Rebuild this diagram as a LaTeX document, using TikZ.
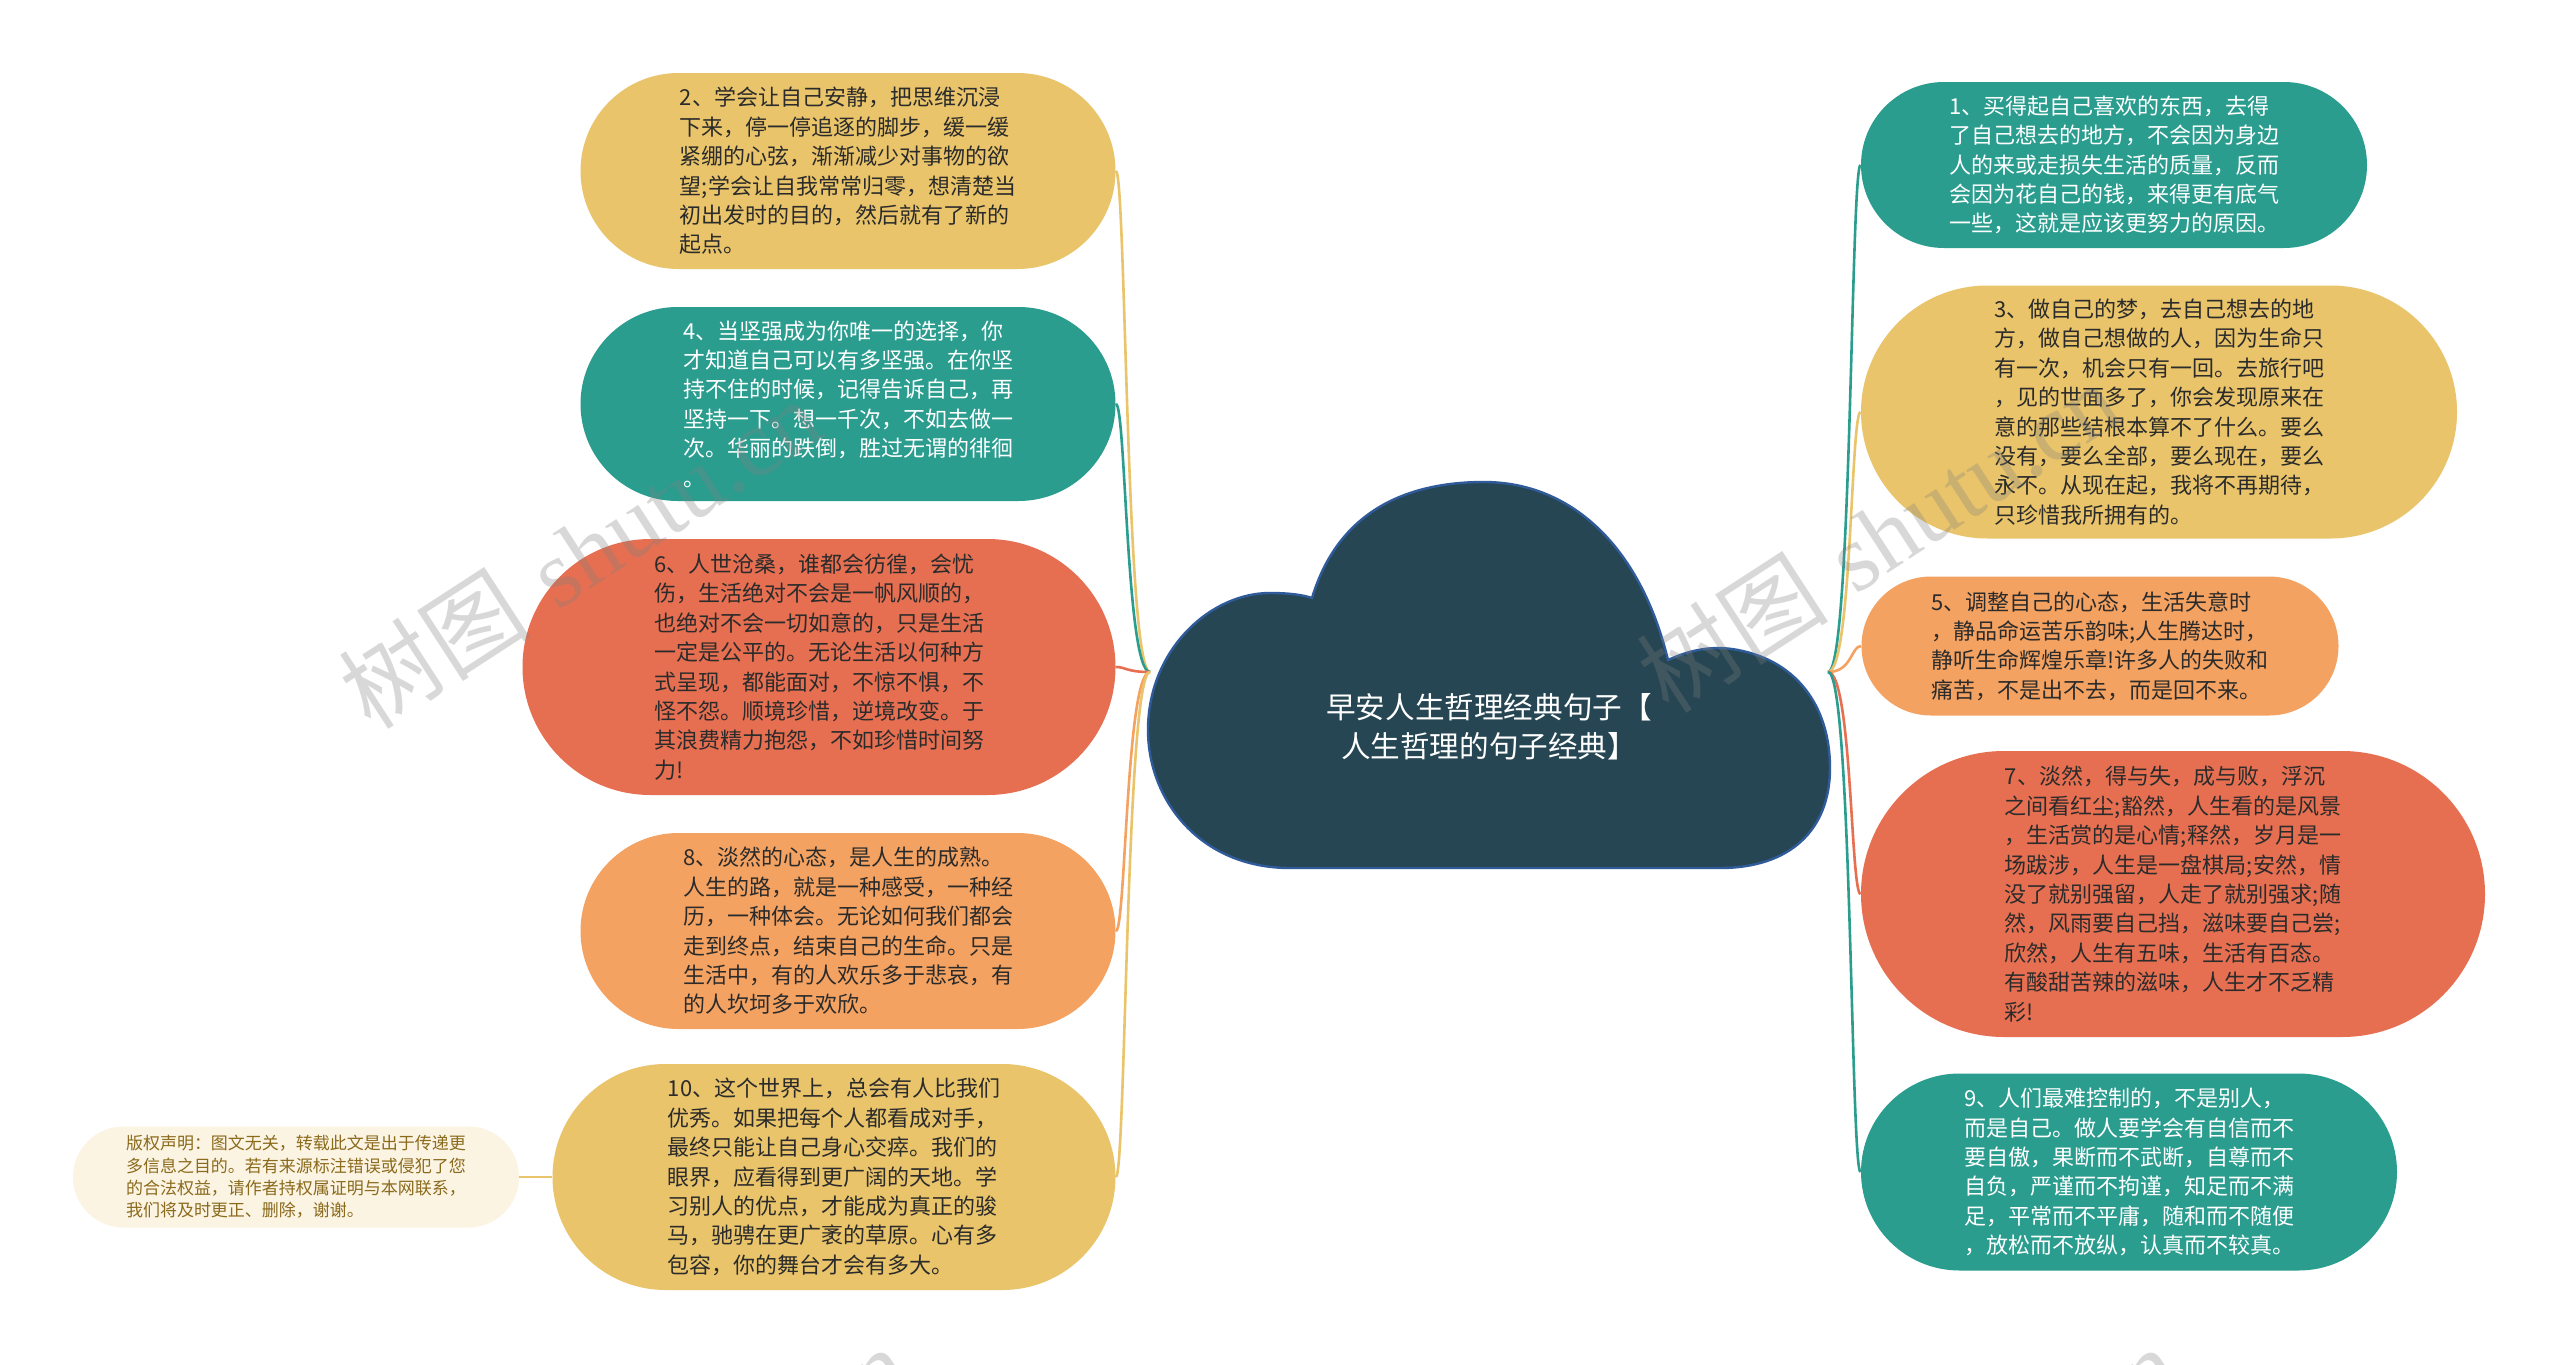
\documentclass[tikz,border=0pt]{standalone}
\usepackage{fontspec}
\newfontfamily\cjk{Noto Sans CJK SC}
\newfontfamily\wmserif{Liberation Serif}
\usetikzlibrary{shapes.misc}
\definecolor{cyel}{HTML}{E9C46A}
\definecolor{cteal}{HTML}{2A9D8F}
\definecolor{cred}{HTML}{E76F51}
\definecolor{cora}{HTML}{F4A261}
\definecolor{cdark}{HTML}{264653}
\definecolor{cline}{HTML}{2F5B9A}
\definecolor{ctxt}{HTML}{2B2B2B}
\definecolor{ccream}{HTML}{FCF4E2}
\definecolor{cbrown}{HTML}{8A6A1C}
\begin{document}
\begin{tikzpicture}[x=0.5pt,y=-0.5pt,
  bub/.style={rounded rectangle, inner sep=0pt, align=left,
    font=\cjk\fontsize{11}{14.7}\selectfont},
  darkbub/.style={bub, text=ctxt},
  lightbub/.style={bub, text=white},
  conn/.style={line width=1.3pt},
  wm/.style={text=gray, opacity=0.3, font=\fontsize{48}{48}\selectfont, rotate=33}
]
\path[use as bounding box, fill=white] (0,0) rectangle (2560,1365);

% anchors on the cloud
\coordinate (cL) at (1150,672);
\coordinate (cR) at (1828,672);

% nodes
\node[darkbub, fill=cyel, minimum width=267.5pt, minimum height=98pt] (n2) at (848,171)
 {2、学会让自己安静，把思维沉浸\\下来，停一停追逐的脚步，缓一缓\\紧绷的心弦，渐渐减少对事物的欲\\望;学会让自我常常归零，想清楚当\\初出发时的目的，然后就有了新的\\起点。};
\node[lightbub, fill=cteal, minimum width=267.5pt, minimum height=97pt] (n4) at (848,404)
 {4、当坚强成为你唯一的选择，你\\才知道自己可以有多坚强。在你坚\\持不住的时候，记得告诉自己，再\\坚持一下。想一千次，不如去做一\\次。华丽的跌倒，胜过无谓的徘徊\\。};
\node[darkbub, fill=cred, minimum width=296.5pt, minimum height=128pt] (n6) at (819,667)
 {6、人世沧桑，谁都会彷徨，会忧\\伤，生活绝对不会是一帆风顺的，\\也绝对不会一切如意的，只是生活\\一定是公平的。无论生活以何种方\\式呈现，都能面对，不惊不惧，不\\怪不怨。顺境珍惜，逆境改变。于\\其浪费精力抱怨，不如珍惜时间努\\力!};
\node[darkbub, fill=cora, minimum width=267.5pt, minimum height=98pt] (n8) at (848,931)
 {8、淡然的心态，是人生的成熟。\\人生的路，就是一种感受，一种经\\历，一种体会。无论如何我们都会\\走到终点，结束自己的生命。只是\\生活中，有的人欢乐多于悲哀，有\\的人坎坷多于欢欣。};
\node[darkbub, fill=cyel, minimum width=281.5pt, minimum height=113pt] (n10) at (834,1177)
 {10、这个世界上，总会有人比我们\\优秀。如果把每个人都看成对手，\\最终只能让自己身心交瘁。我们的\\眼界，应看得到更广阔的天地。学\\习别人的优点，才能成为真正的骏\\马，驰骋在更广袤的草原。心有多\\包容，你的舞台才会有多大。};
\node[rounded rectangle, inner sep=0pt, align=left, fill=ccream, text=cbrown,
  font=\cjk\fontsize{8.5}{11.2}\selectfont,
  minimum width=223pt, minimum height=50.5pt] (cp) at (296,1177)
 {版权声明：图文无关，转载此文是出于传递更\\多信息之目的。若有来源标注错误或侵犯了您\\的合法权益，请作者持权属证明与本网联系，\\我们将及时更正、删除，谢谢。};

\node[lightbub, fill=cteal, minimum width=253pt, minimum height=83pt] (r1) at (2114,165)
 {1、买得起自己喜欢的东西，去得\\了自己想去的地方，不会因为身边\\人的来或走损失生活的质量，反而\\会因为花自己的钱，来得更有底气\\一些，这就是应该更努力的原因。};
\node[darkbub, fill=cyel, minimum width=298pt, minimum height=126.5pt] (r3) at (2159,412)
 {3、做自己的梦，去自己想去的地\\方，做自己想做的人，因为生命只\\有一次，机会只有一回。去旅行吧\\，见的世面多了，你会发现原来在\\意的那些结根本算不了什么。要么\\没有，要么全部，要么现在，要么\\永不。从现在起，我将不再期待，\\只珍惜我所拥有的。};
\node[darkbub, fill=cora, minimum width=238.5pt, minimum height=69.5pt] (r5) at (2100,646)
 {5、调整自己的心态，生活失意时\\，静品命运苦乐韵味;人生腾达时，\\静听生命辉煌乐章!许多人的失败和\\痛苦，不是出不去，而是回不来。};
\node[darkbub, fill=cred, minimum width=312pt, minimum height=143pt] (r7) at (2173,894)
 {7、淡然，得与失，成与败，浮沉\\之间看红尘;豁然，人生看的是风景\\，生活赏的是心情;释然，岁月是一\\场跋涉，人生是一盘棋局;安然，情\\没了就别强留，人走了就别强求;随\\然，风雨要自己挡，滋味要自己尝;\\欣然，人生有五味，生活有百态。\\有酸甜苦辣的滋味，人生才不乏精\\彩!};
\node[lightbub, fill=cteal, minimum width=268pt, minimum height=98.5pt] (r9) at (2129,1172)
 {9、人们最难控制的，不是别人，\\而是自己。做人要学会有自信而不\\要自傲，果断而不武断，自尊而不\\自负，严谨而不拘谨，知足而不满\\足，平常而不平庸，随和而不随便\\，放松而不放纵，认真而不较真。};

% connectors
\draw[conn, cyel] (cL) .. controls +(-24,0) and +(10,0) .. (n2.east);
\draw[conn, cteal] (cL) .. controls +(-24,0) and +(10,0) .. (n4.east);
\draw[conn, cred] (cL) .. controls +(-24,0) and +(10,0) .. (n6.east);
\draw[conn, cora] (cL) .. controls +(-24,0) and +(10,0) .. (n8.east);
\draw[conn, cyel] (cL) .. controls +(-24,0) and +(10,0) .. (n10.east);
\draw[conn, cteal] (cR) .. controls +(24,0) and +(-10,0) .. (r1.west);
\draw[conn, cyel] (cR) .. controls +(24,0) and +(-10,0) .. (r3.west);
\draw[conn, cora] (cR) .. controls +(24,0) and +(-10,0) .. (r5.west);
\draw[conn, cred] (cR) .. controls +(24,0) and +(-10,0) .. (r7.west);
\draw[conn, cteal] (cR) .. controls +(24,0) and +(-10,0) .. (r9.west);
\draw[conn, cyel] (cp.east) -- (n10.west);

% central cloud
\draw[fill=cdark, draw=cline, line width=1.2pt]
  (1290,868) .. controls (1200,868) and (1148,800) .. (1148,730)
  .. controls (1148,650) and (1210,593) .. (1270,593)
  .. controls (1290,593) and (1303,595) .. (1312,598)
  .. controls (1340,505) and (1415,482) .. (1484,482)
  .. controls (1570,482) and (1640,545) .. (1668,660)
  .. controls (1690,650) and (1712,645) .. (1738,650)
  .. controls (1800,662) and (1830,710) .. (1830,768)
  .. controls (1830,830) and (1790,868) .. (1720,868)
  -- cycle;
\node[text=white, align=center, font=\cjk\fontsize{14.8}{19.5}\selectfont] (title) at (1489,727)
 {早安人生哲理经典句子【\\人生哲理的句子经典】};

% watermarks
\node[wm] (wm1) at (580,553) {{\cjk 树图} {\wmserif shutu.cn}};
\node[wm] (wm2) at (1878,537) {{\cjk 树图} {\wmserif shutu.cn}};
\node[wm] (wm3) at (667,1501) {{\cjk 树图} {\wmserif shutu.cn}};
\node[wm] (wm4) at (1937,1501) {{\cjk 树图} {\wmserif shutu.cn}};
\end{tikzpicture}
\end{document}
